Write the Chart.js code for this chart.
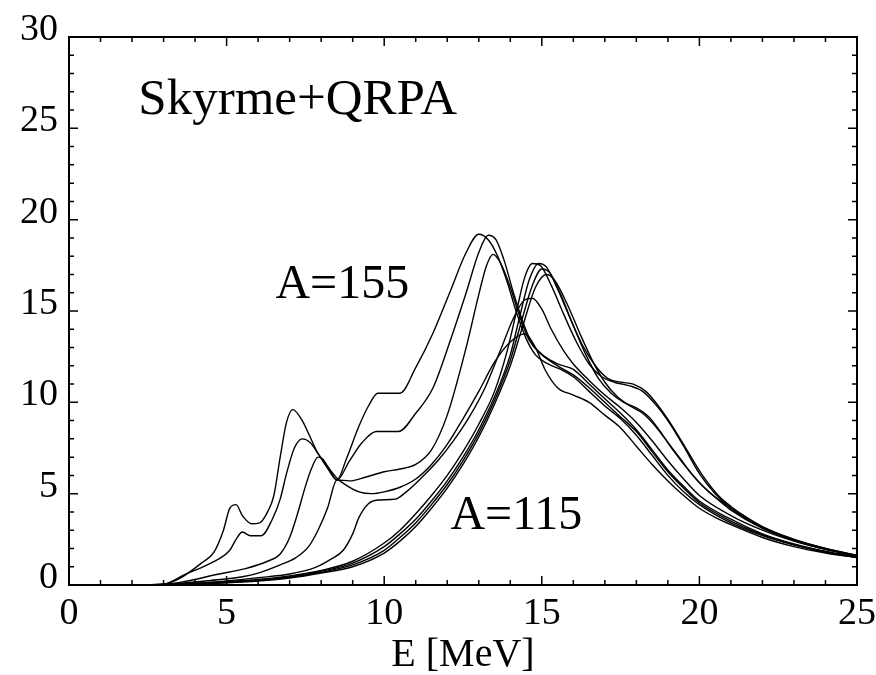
<!DOCTYPE html>
<html>
<head>
<meta charset="utf-8">
<script src="https://cdn.jsdelivr.net/npm/chart.js@4.4.1/dist/chart.umd.min.js"></script>
<style>
  html, body { margin: 0; padding: 0; background: #fff; }
  #wrap { width: 876px; height: 675px; }
</style>
</head>
<body>
<div id="wrap"><canvas id="grafico" width="876" height="675"></canvas></div>
<script>
// Curvas de intensidad [E (MeV), S]
const a155 = [[1.9,0],[3.0,0.05],[3.5,0.35],[4.2,1.2],[4.6,1.8],[4.9,3.0],[5.1,4.2],[5.3,4.4],[5.5,3.8],[5.8,3.35],[6.05,3.4],[6.3,4.0],[6.5,4.9],[6.7,7.0],[6.9,8.9],[7.1,9.6],[7.4,9.0],[7.65,8.1],[7.9,7.2],[8.2,6.5],[8.5,5.85],[8.8,5.45],[9.2,5.1],[9.6,5.0],[10.0,5.1],[10.5,5.35],[11.0,5.8],[11.5,6.6],[12.0,7.7],[12.5,9.1],[13.0,10.6],[13.5,12.2],[14.0,13.3],[14.45,13.75],[14.8,13.0],[15.1,11.8],[15.5,10.8],[16.0,10.4],[16.5,10.0],[17.0,9.3],[17.5,8.6],[18.0,7.6],[18.5,6.6],[19.0,5.7],[19.5,4.9],[20.0,4.2],[20.5,3.7],[21.0,3.3],[22.0,2.6],[23.0,2.1],[24.0,1.75],[25.0,1.5]];
const a150 = [[1.9,0],[3.0,0.05],[3.7,0.6],[4.5,1.2],[5.1,1.9],[5.3,2.5],[5.5,2.9],[5.75,2.7],[6.1,2.7],[6.45,3.6],[6.7,4.7],[6.9,6.1],[7.15,7.5],[7.4,8.0],[7.65,7.8],[7.9,7.2],[8.2,6.4],[8.5,5.75],[8.8,6.9],[9.2,8.7],[9.5,9.8],[9.8,10.5],[10.5,10.5],[11.0,11.9],[11.55,13.8],[12.1,16.1],[12.6,18.2],[13.0,19.2],[13.3,18.9],[13.6,18.0],[13.9,16.6],[14.2,14.9],[14.5,13.5],[14.8,12.6],[15.2,12.1],[15.6,11.8],[16.0,11.4],[16.5,10.6],[17.0,9.8],[17.5,9.1],[18.0,8.2],[18.5,7.1],[19.0,6.0],[19.5,5.1],[20.0,4.4],[21.0,3.4],[22.0,2.7],[23.0,2.2],[24.0,1.8],[25.0,1.5]];
const a145 = [[1.9,0],[3.0,0.03],[4.0,0.3],[4.6,0.55],[5.6,0.9],[6.3,1.3],[6.7,1.7],[7.0,2.6],[7.25,3.9],[7.5,5.4],[7.7,6.4],[7.9,7.0],[8.05,6.9],[8.3,6.2],[8.5,5.75],[8.9,6.8],[9.3,7.8],[9.75,8.4],[10.45,8.4],[11.0,9.4],[11.55,10.8],[12.1,13.4],[12.6,16.0],[13.0,18.2],[13.3,19.15],[13.55,18.9],[13.8,17.8],[14.1,16.0],[14.4,14.4],[14.7,13.2],[15.1,12.5],[15.5,12.1],[16.0,11.8],[16.5,11.0],[17.0,10.2],[17.5,9.4],[18.0,8.5],[18.5,7.4],[19.0,6.3],[19.5,5.4],[20.0,4.6],[21.0,3.6],[22.0,2.8],[23.0,2.25],[24.0,1.85],[25.0,1.55]];
const a140 = [[1.9,0],[3.0,0.03],[4.5,0.25],[5.5,0.45],[6.0,0.65],[6.7,1.1],[7.2,1.5],[7.6,2.1],[7.9,3.0],[8.2,4.2],[8.5,5.75],[8.9,5.7],[9.4,5.9],[10.0,6.2],[10.5,6.35],[11.0,6.6],[11.5,7.4],[12.0,9.3],[12.6,13.0],[13.0,15.9],[13.25,17.5],[13.45,18.1],[13.7,17.6],[14.0,16.3],[14.3,14.7],[14.6,13.4],[15.0,12.6],[15.5,12.0],[16.0,11.5],[16.5,10.8],[17.0,10.0],[17.5,9.2],[18.0,8.4],[18.5,7.3],[19.0,6.2],[19.5,5.3],[20.0,4.5],[21.0,3.5],[22.0,2.75],[23.0,2.2],[24.0,1.8],[25.0,1.5]];
const a135 = [[1.9,0],[3.0,0.02],[4.5,0.15],[6.0,0.4],[7.0,0.6],[7.8,0.95],[8.3,1.4],[8.7,1.9],[9.0,2.8],[9.2,3.7],[9.5,4.45],[9.8,4.65],[10.35,4.7],[10.7,5.1],[11.2,5.9],[11.7,6.8],[12.2,7.9],[12.7,9.2],[13.2,10.8],[13.7,12.9],[14.1,14.6],[14.45,15.6],[14.7,15.7],[15.0,15.1],[15.3,14.0],[15.7,12.8],[16.0,12.1],[16.5,11.2],[17.0,10.4],[17.5,9.7],[18.0,8.9],[18.5,7.9],[19.0,6.8],[19.5,5.8],[20.0,4.9],[21.0,3.8],[22.0,3.0],[23.0,2.4],[24.0,1.95],[25.0,1.6]];
const a130 = [[1.9,0],[3.0,0.03],[4.0,0.08],[5.0,0.18],[6.0,0.3],[7.0,0.5],[8.0,0.8],[9.0,1.3],[10.0,2.3],[10.5,3.0],[11.0,3.9],[11.5,4.9],[12.0,6.0],[12.5,7.3],[13.0,8.8],[13.5,10.6],[13.9,12.8],[14.2,15.0],[14.45,16.8],[14.7,17.6],[14.95,17.5],[15.3,16.4],[15.7,14.8],[16.1,13.3],[16.5,12.1],[16.9,11.4],[17.3,11.1],[17.8,10.9],[18.2,10.6],[18.6,9.9],[19.0,9.0],[19.5,7.6],[20.0,6.1],[20.5,5.0],[21.0,4.2],[21.5,3.6],[22.0,3.15],[23.0,2.45],[24.0,1.95],[25.0,1.6]];
const a125 = [[1.9,0],[3.0,0.02],[4.0,0.07],[5.0,0.15],[6.0,0.28],[7.0,0.45],[8.0,0.75],[9.0,1.2],[10.0,2.1],[10.5,2.8],[11.0,3.6],[11.5,4.6],[12.0,5.7],[12.5,7.0],[13.0,8.5],[13.5,10.3],[14.0,12.6],[14.3,14.7],[14.6,16.7],[14.9,17.6],[15.15,17.4],[15.5,16.2],[15.9,14.6],[16.3,13.1],[16.7,12.0],[17.1,11.3],[17.5,11.1],[17.9,11.0],[18.3,10.6],[18.7,9.8],[19.1,8.8],[19.6,7.4],[20.1,6.0],[20.6,4.9],[21.0,4.3],[21.5,3.7],[22.0,3.2],[23.0,2.5],[24.0,2.0],[25.0,1.62]];
const a120 = [[1.9,0],[3.0,0.02],[4.0,0.06],[5.0,0.13],[6.0,0.25],[7.0,0.42],[8.0,0.7],[9.0,1.1],[10.0,1.9],[10.5,2.6],[11.0,3.4],[11.5,4.4],[12.0,5.5],[12.5,6.8],[13.0,8.3],[13.5,10.1],[14.0,12.3],[14.35,14.4],[14.7,16.4],[15.0,17.3],[15.25,17.1],[15.6,15.9],[16.0,14.2],[16.4,12.6],[16.8,11.3],[17.2,10.5],[17.6,10.0],[18.0,9.7],[18.4,9.2],[18.8,8.3],[19.2,7.3],[19.6,6.4],[20.0,5.6],[20.5,4.8],[21.0,4.1],[22.0,3.1],[23.0,2.45],[24.0,1.98],[25.0,1.6]];
const a115 = [[1.9,0],[3.0,0.02],[4.0,0.05],[5.0,0.12],[6.0,0.22],[7.0,0.38],[8.0,0.65],[9.0,1.0],[10.0,1.75],[10.5,2.4],[11.0,3.2],[11.5,4.2],[12.0,5.3],[12.5,6.6],[13.0,8.1],[13.5,9.9],[14.0,12.0],[14.4,14.2],[14.8,16.3],[15.15,17.0],[15.4,16.7],[15.8,15.4],[16.2,13.8],[16.6,12.3],[17.0,11.1],[17.4,10.3],[17.8,9.8],[18.2,9.4],[18.6,8.7],[19.0,7.8],[19.4,6.9],[19.8,6.0],[20.3,5.1],[21.0,4.2],[22.0,3.15],[23.0,2.5],[24.0,2.0],[25.0,1.62]];

const curvas = [a155, a150, a145, a140, a135, a130, a125, a120, a115];
const nombres = ['A=155', 'A=150', 'A=145', 'A=140', 'A=135', 'A=130', 'A=125', 'A=120', 'A=115'];

// Ejes
const rangoE = [0, 25];
const rangoS = [0, 30];
const pasoMayor = 5;

// Textos dentro del gráfico (coordenadas en unidades de datos)
const notas = [
    { texto: 'Skyrme+QRPA', e: 2.2, s: 25.8, size: 51 },
    { texto: 'A=155', e: 6.55, s: 15.7, size: 48 },
    { texto: 'A=115', e: 12.1, s: 3.05, size: 48 }
];

const serif = "'Liberation Serif', 'Times New Roman', serif";

// Marco y marcas hacia dentro en los cuatro lados
const marcoPlugin = {
    id: 'marco',
    afterDatasetsDraw(chart) {
        const { ctx, chartArea: a, scales: { x, y } } = chart;
        ctx.save();
        ctx.strokeStyle = '#000';
        ctx.lineWidth = 2;
        ctx.strokeRect(a.left, a.top, a.right - a.left, a.bottom - a.top);
        ctx.lineWidth = 1.5;
        ctx.beginPath();
        for (let v = rangoE[0]; v <= rangoE[1]; v++) {
            const px = x.getPixelForValue(v);
            const len = v % pasoMayor === 0 ? 9 : 5;
            ctx.moveTo(px, a.bottom); ctx.lineTo(px, a.bottom - len);
            ctx.moveTo(px, a.top); ctx.lineTo(px, a.top + len);
        }
        for (let v = rangoS[0]; v <= rangoS[1]; v++) {
            const py = y.getPixelForValue(v);
            const len = v % pasoMayor === 0 ? 9 : 5;
            ctx.moveTo(a.left, py); ctx.lineTo(a.left + len, py);
            ctx.moveTo(a.right, py); ctx.lineTo(a.right - len, py);
        }
        ctx.stroke();

        ctx.fillStyle = '#000';
        ctx.textBaseline = 'alphabetic';
        ctx.textAlign = 'left';
        notas.forEach(n => {
            ctx.font = `${n.size}px ${serif}`;
            ctx.fillText(n.texto, x.getPixelForValue(n.e), y.getPixelForValue(n.s));
        });
        ctx.restore();
    }
};

const ctx = document.getElementById('grafico').getContext('2d');
new Chart(ctx, {
    type: 'scatter',
    data: {
        datasets: curvas.map((c, i) => ({
            label: nombres[i],
            data: c.map(p => ({ x: p[0], y: p[1] })),
            showLine: true,
            borderColor: '#000',
            borderWidth: 1.4,
            pointRadius: 0,
            fill: false,
            cubicInterpolationMode: 'monotone'
        }))
    },
    options: {
        responsive: false,
        animation: false,
        layout: { padding: { top: 37, right: 19, left: 0, bottom: 0 } },
        plugins: {
            legend: { display: false },
            tooltip: { enabled: false }
        },
        scales: {
            x: {
                type: 'linear',
                min: rangoE[0],
                max: rangoE[1],
                grid: { display: false, drawTicks: false },
                border: { display: false },
                ticks: {
                    stepSize: pasoMayor,
                    color: '#000',
                    padding: 6,
                    font: { family: serif, size: 38 }
                },
                title: {
                    display: true,
                    text: 'E [MeV]',
                    color: '#000',
                    font: { family: serif, size: 40, lineHeight: 1 },
                    padding: { top: 0, bottom: 0 }
                },
                afterFit(s) {
                    s.height = 90;
                    s.paddingLeft = 0;
                    s.paddingRight = 0;
                }
            },
            y: {
                min: rangoS[0],
                max: rangoS[1],
                grid: { display: false, drawTicks: false },
                border: { display: false },
                ticks: {
                    stepSize: pasoMayor,
                    color: '#000',
                    padding: 11,
                    labelOffset: -7,
                    font: { family: serif, size: 38 }
                },
                afterFit(s) {
                    s.width = 69;
                    s.paddingTop = 0;
                    s.paddingBottom = 0;
                }
            }
        }
    },
    plugins: [marcoPlugin]
});
</script>
</body>
</html>
